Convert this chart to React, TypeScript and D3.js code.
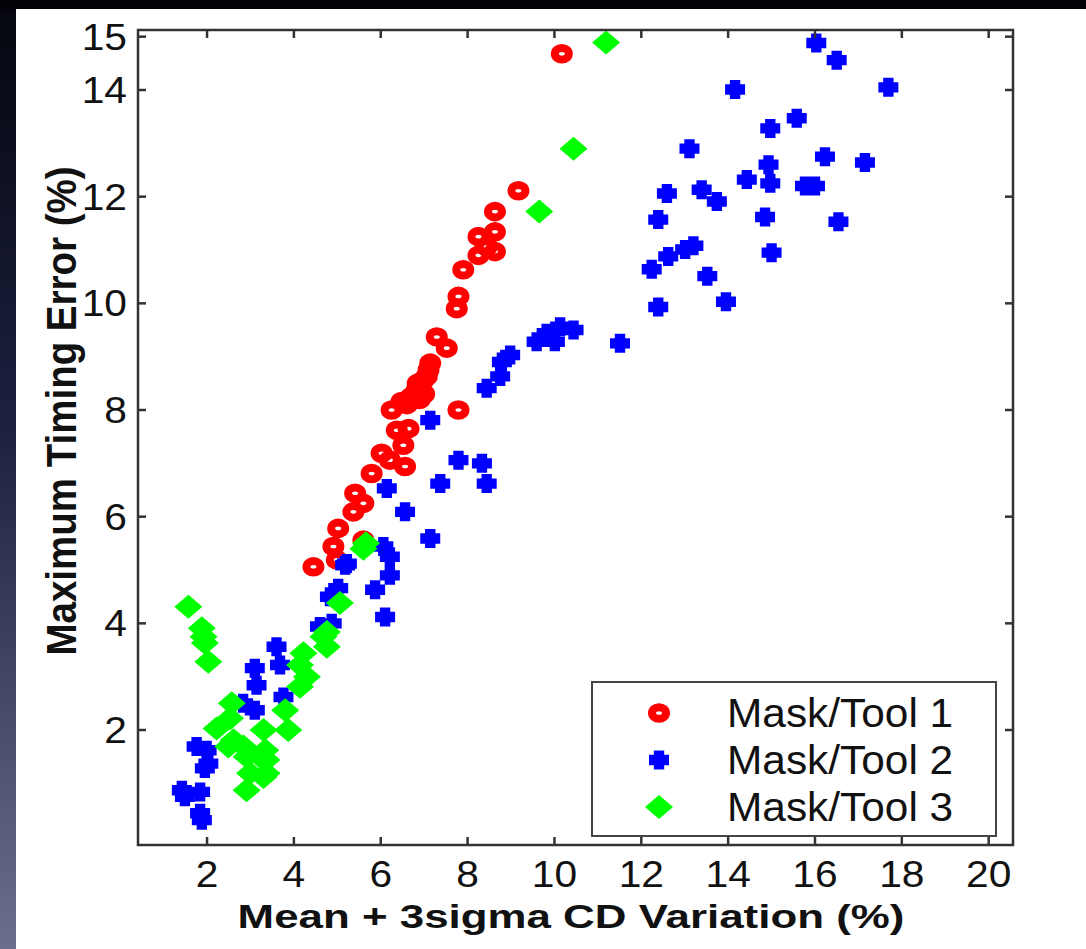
import React, { useEffect, useRef } from "react";
import * as d3 from "d3";

// Mask/Tool 1 (red rings)
const tool1: [number, number][] = [
  [4.45, 5.06], [4.91, 5.44], [4.99, 5.19], [5.02, 5.78], [5.37, 6.09], [5.41, 6.44],
  [5.6, 6.25], [5.6, 5.56], [5.79, 6.81], [6.02, 7.19], [6.21, 7.06], [6.56, 6.94],
  [6.37, 7.62], [6.64, 7.65], [6.52, 7.34], [6.25, 8.0], [6.48, 8.16], [6.6, 8.1],
  [6.75, 8.19], [6.7, 8.25], [6.83, 8.38], [6.98, 8.56], [6.85, 8.5], [7.06, 8.63],
  [7.1, 8.75], [7.14, 8.88], [7.0, 8.3], [6.9, 8.2], [7.29, 9.37], [7.52, 9.16],
  [7.79, 8.0], [7.75, 9.9], [7.79, 10.13], [7.9, 10.63], [8.25, 10.9], [8.44, 11.06],
  [8.63, 10.97], [8.25, 11.25], [8.63, 11.34], [8.63, 11.72], [9.17, 12.11], [10.17, 14.68],
];

// Mask/Tool 2 (blue crosses)
const tool2: [number, number][] = [
  [1.42, 0.87], [1.49, 0.75], [1.84, 0.84], [1.84, 0.44], [1.88, 0.31], [1.76, 1.69],
  [1.99, 1.62], [2.03, 1.37], [1.95, 1.28], [2.83, 2.5], [3.1, 2.37], [3.1, 3.16],
  [3.14, 2.84], [3.6, 3.56], [3.68, 3.22], [3.76, 2.62], [4.6, 3.94], [4.87, 4.0],
  [4.83, 4.5], [5.02, 4.66], [5.18, 5.09], [5.22, 5.12], [5.87, 4.63], [6.1, 4.12],
  [6.21, 4.9], [6.06, 5.44], [6.21, 5.25], [6.14, 6.53], [6.56, 6.09], [7.14, 5.59],
  [7.37, 6.62], [7.79, 7.06], [8.33, 7.0], [8.44, 6.62], [7.14, 7.81], [8.44, 8.41],
  [8.75, 8.63], [8.79, 8.9], [8.98, 9.03], [9.59, 9.28], [9.82, 9.44], [10.01, 9.28],
  [10.13, 9.56], [10.44, 9.5], [11.51, 9.25], [12.39, 9.93], [13.95, 10.03],
  [13.52, 10.51], [12.24, 10.64], [12.62, 10.88], [13.01, 11.01], [13.2, 11.08],
  [15.0, 10.95], [12.39, 11.57], [14.85, 11.62], [16.54, 11.53], [12.59, 12.06],
  [13.39, 12.13], [13.74, 11.91], [15.77, 12.2], [16.0, 12.2], [14.97, 12.25],
  [14.43, 12.32], [14.93, 12.6], [16.23, 12.75], [17.15, 12.64], [13.11, 12.9],
  [14.97, 13.28], [15.58, 13.47], [14.16, 14.01], [17.69, 14.05], [16.5, 14.56],
  [16.03, 14.88],
];

// Mask/Tool 3 (green diamonds)
const tool3: [number, number][] = [
  [1.57, 4.31], [1.88, 3.91], [1.92, 3.75], [1.95, 3.63], [2.03, 3.28], [2.57, 2.5],
  [2.22, 2.03], [2.53, 2.22], [2.61, 1.81], [2.49, 1.69], [2.84, 1.69], [2.91, 1.5],
  [3.22, 1.5], [2.99, 1.19], [3.37, 1.19], [2.91, 0.87], [3.3, 1.12], [3.37, 1.44],
  [3.34, 1.62], [3.3, 2.0], [3.8, 2.37], [3.87, 2.0], [4.14, 2.81], [4.3, 3.0],
  [4.14, 3.22], [4.22, 3.44], [4.76, 3.56], [4.68, 3.75], [4.76, 3.84], [5.06, 4.38],
  [5.6, 5.4], [5.66, 5.5], [9.65, 11.72], [10.44, 12.9], [11.19, 14.89],
];

const xTicks = [2, 4, 6, 8, 10, 12, 14, 16, 18, 20];
const yTicks = [2, 4, 6, 8, 10, 12, 14, 15];
const legendLabels = ["Mask/Tool 1", "Mask/Tool 2", "Mask/Tool 3"];
const xTitle = "Mean + 3sigma CD Variation (%)";
const yTitle = "Maximum Timing Error (%)";

const FONT = "'Liberation Sans', Arial, sans-serif";

// fat plus shape used for Mask/Tool 2
const plusSymbol = {
  draw(ctx: any) {
    const a = 10, b = 9.5, w = 5.2;
    const pts = [
      [-w, -b], [w, -b], [w, -w], [a, -w], [a, w], [w, w],
      [w, b], [-w, b], [-w, w], [-a, w], [-a, -w], [-w, -w],
    ];
    ctx.moveTo(pts[0][0], pts[0][1]);
    pts.slice(1).forEach((p) => ctx.lineTo(p[0], p[1]));
    ctx.closePath();
  },
};

const diamondSymbol = {
  draw(ctx: any) {
    ctx.moveTo(0, -12);
    ctx.lineTo(14, 0);
    ctx.lineTo(0, 12);
    ctx.lineTo(-14, 0);
    ctx.closePath();
  },
};

const ScatterChart = () => {
  const svgRef = useRef<SVGSVGElement>(null);

  useEffect(() => {
    const W = 1086;
    const H = 949;
    const left = 138, right = 1013, top = 30, bottom = 845;

    const svg = d3.select(svgRef.current).attr("width", W).attr("height", H);
    svg.selectAll("*").remove();

    const x = d3.scaleLinear().domain([0.41, 20.56]).range([left, right]);
    const y = d3.scaleLinear().domain([-0.156, 15.125]).range([bottom, top]);

    // backdrop: dark slide frame
    const defs = svg.append("defs");
    const grad = defs
      .append("linearGradient")
      .attr("id", "sideband")
      .attr("x1", 0).attr("y1", 0).attr("x2", 0).attr("y2", 1);
    grad.append("stop").attr("offset", "0%").attr("stop-color", "#05060e");
    grad.append("stop").attr("offset", "45%").attr("stop-color", "#1c2140");
    grad.append("stop").attr("offset", "100%").attr("stop-color", "#6c6f8c");

    svg.append("rect").attr("width", W).attr("height", H).attr("fill", "#fff");
    svg.append("rect").attr("width", 16).attr("height", H).attr("fill", "url(#sideband)");
    svg.append("rect").attr("width", W).attr("height", 9).attr("fill", "#020206");

    const plot = svg.append("g");

    // red rings
    plot
      .append("g")
      .selectAll("ellipse")
      .data(tool1)
      .enter()
      .append("ellipse")
      .attr("cx", (d) => x(d[0]))
      .attr("cy", (d) => y(d[1]))
      .attr("rx", 7)
      .attr("ry", 5.8)
      .attr("fill", "none")
      .attr("stroke", "#ff0000")
      .attr("stroke-width", 8);

    // blue crosses
    const plus = d3.symbol().type(plusSymbol as any)();
    plot
      .append("g")
      .selectAll("path")
      .data(tool2)
      .enter()
      .append("path")
      .attr("d", plus)
      .attr("transform", (d) => `translate(${x(d[0])},${y(d[1])})`)
      .attr("fill", "#0000ff");

    // green diamonds
    const diamond = d3.symbol().type(diamondSymbol as any)();
    plot
      .append("g")
      .selectAll("path")
      .data(tool3)
      .enter()
      .append("path")
      .attr("d", diamond)
      .attr("transform", (d) => `translate(${x(d[0])},${y(d[1])})`)
      .attr("fill", "#00ff00");

    // frame + inward ticks on every side
    const axisColor = "#333";
    const tickLen = 8;
    const frame = svg.append("g").attr("stroke", axisColor).attr("stroke-width", 2.5);
    frame
      .append("rect")
      .attr("x", left)
      .attr("y", top)
      .attr("width", right - left)
      .attr("height", bottom - top)
      .attr("fill", "none");

    xTicks.forEach((t) => {
      frame.append("line").attr("x1", x(t)).attr("x2", x(t)).attr("y1", bottom).attr("y2", bottom - tickLen);
      frame.append("line").attr("x1", x(t)).attr("x2", x(t)).attr("y1", top).attr("y2", top + tickLen);
    });
    yTicks.forEach((t) => {
      frame.append("line").attr("y1", y(t)).attr("y2", y(t)).attr("x1", left).attr("x2", left + tickLen);
      frame.append("line").attr("y1", y(t)).attr("y2", y(t)).attr("x1", right).attr("x2", right - tickLen);
    });

    // tick labels
    const tickFont = 37;
    svg
      .append("g")
      .selectAll("text")
      .data(xTicks)
      .enter()
      .append("text")
      .attr("transform", (d) => `translate(${x(d)},${887}) scale(1.1,1)`)
      .attr("text-anchor", "middle")
      .attr("font-family", FONT)
      .attr("font-size", tickFont)
      .attr("fill", "#111")
      .text((d) => d);

    svg
      .append("g")
      .selectAll("text")
      .data(yTicks)
      .enter()
      .append("text")
      .attr("transform", (d) => `translate(${127},${y(d) + 13}) scale(1.1,1)`)
      .attr("text-anchor", "end")
      .attr("font-family", FONT)
      .attr("font-size", tickFont)
      .attr("fill", "#111")
      .text((d) => d);

    // axis titles
    svg
      .append("text")
      .attr("transform", `translate(571,928) scale(1.33,1)`)
      .attr("text-anchor", "middle")
      .attr("font-family", FONT)
      .attr("font-weight", "bold")
      .attr("font-size", 33)
      .attr("fill", "#111")
      .text(xTitle);

    svg
      .append("text")
      .attr("transform", `translate(76,411) scale(1.1,1) rotate(-90)`)
      .attr("text-anchor", "middle")
      .attr("font-family", FONT)
      .attr("font-weight", "bold")
      .attr("font-size", 38.5)
      .attr("fill", "#111")
      .text(yTitle);

    // legend
    const lg = svg.append("g");
    lg.append("rect")
      .attr("x", 592)
      .attr("y", 682)
      .attr("width", 404)
      .attr("height", 154)
      .attr("fill", "#fff")
      .attr("stroke", "#444")
      .attr("stroke-width", 2);

    const rowY = d3.scalePoint().domain(legendLabels).range([713, 807]);
    lg.append("ellipse")
      .attr("cx", 659)
      .attr("cy", rowY(legendLabels[0]) as number)
      .attr("rx", 7)
      .attr("ry", 5.8)
      .attr("fill", "none")
      .attr("stroke", "#ff0000")
      .attr("stroke-width", 8);
    lg.append("path")
      .attr("d", plus)
      .attr("transform", `translate(659,${rowY(legendLabels[1])})`)
      .attr("fill", "#0000ff");
    lg.append("path")
      .attr("d", diamond)
      .attr("transform", `translate(659,${rowY(legendLabels[2])})`)
      .attr("fill", "#00ff00");

    lg.selectAll("text.lab")
      .data(legendLabels)
      .enter()
      .append("text")
      .attr("class", "lab")
      .attr("transform", (d) => `translate(727,${(rowY(d) as number) + 14}) scale(1.06,1)`)
      .attr("font-family", FONT)
      .attr("font-size", 40)
      .attr("fill", "#111")
      .text((d) => d);
  }, []);

  return <svg ref={svgRef} style={{ position: "absolute", left: 0, top: 0, display: "block" }}></svg>;
};

export default function App() {
  return <ScatterChart />;
}
